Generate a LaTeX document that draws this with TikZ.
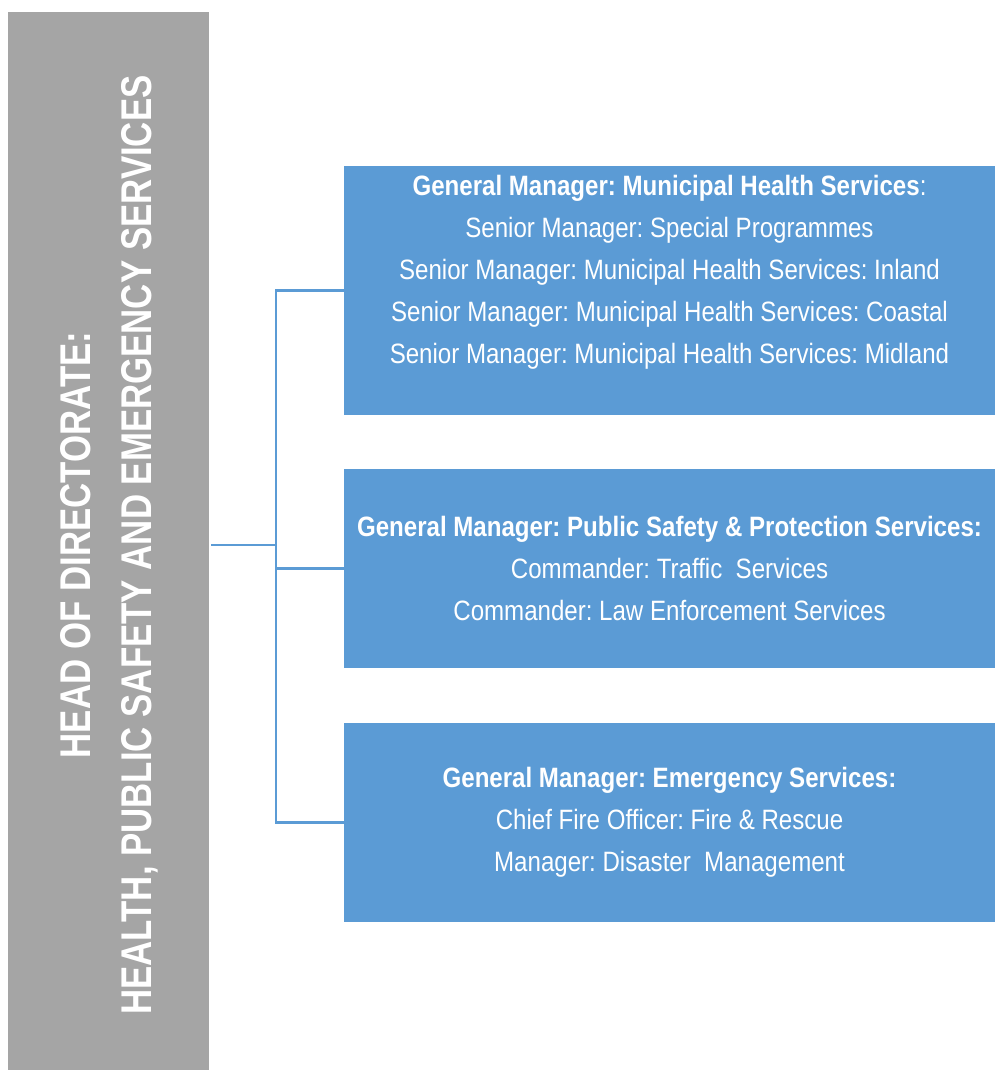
\documentclass[tikz,border=0pt]{standalone}
\usepackage{fontspec}
\setmainfont{Liberation Sans}
\newfontfamily\boxfont[FakeStretch=0.86]{Liberation Sans}
\newfontfamily\barfont[FakeStretch=0.81]{Liberation Sans}
\definecolor{gmblue}{HTML}{5B9BD5}
\definecolor{bargray}{HTML}{A5A5A5}
\frenchspacing
\tikzset{
  barbox/.style={fill=bargray, draw=none, inner sep=0pt, minimum width=201pt, minimum height=1058pt},
  bartext/.style={text=white, align=center, inner sep=0pt, font=\frenchspacing\barfont\bfseries\fontsize{43}{61}\selectfont},
  gmbox/.style={fill=gmblue, draw=none, inner sep=0pt, minimum width=651pt, text=white, align=center,
    font=\frenchspacing\boxfont\fontsize{28}{42}\selectfont},
  conn/.style={draw=gmblue, line width=2.2pt}
}
\begin{document}
\begin{tikzpicture}[x=1pt,y=-1pt]
\useasboundingbox (0,0) rectangle (995,1070);
\node[barbox] (bar) at (108.5,541) {};
\node[bartext, rotate=90] (bartxt) at (109,545) {HEAD OF DIRECTORATE:\\HEALTH, PUBLIC SAFETY AND EMERGENCY SERVICES};

\node[gmbox, minimum height=249pt] (b1) at (669.5,290.5) {\textbf{General Manager: Municipal Health Services}:\\
Senior Manager: Special Programmes\\
Senior Manager: Municipal Health Services: Inland\\
Senior Manager: Municipal Health Services: Coastal\\
Senior Manager: Municipal Health Services: Midland\\ ~};
\node[gmbox, minimum height=199pt] (b2) at (669.5,568.5) {\textbf{General Manager: Public Safety \& Protection Services:}\\
Commander: Traffic\ \ Services\\
Commander: Law Enforcement Services};
\node[gmbox, minimum height=199pt] (b3) at (669.5,822.5) {\textbf{General Manager: Emergency Services:}\\
Chief Fire Officer: Fire \& Rescue\\
Manager: Disaster\ \ Management};

\coordinate (spine) at (276,545);
\draw[conn] ([xshift=2pt]bar.east |- spine) -- (spine);
\draw[conn] (b1.west) -- (b1.west -| spine) -- (b3.west -| spine) -- (b3.west);
\draw[conn] (b2.west -| spine) -- (b2.west);
\end{tikzpicture}
\end{document}
